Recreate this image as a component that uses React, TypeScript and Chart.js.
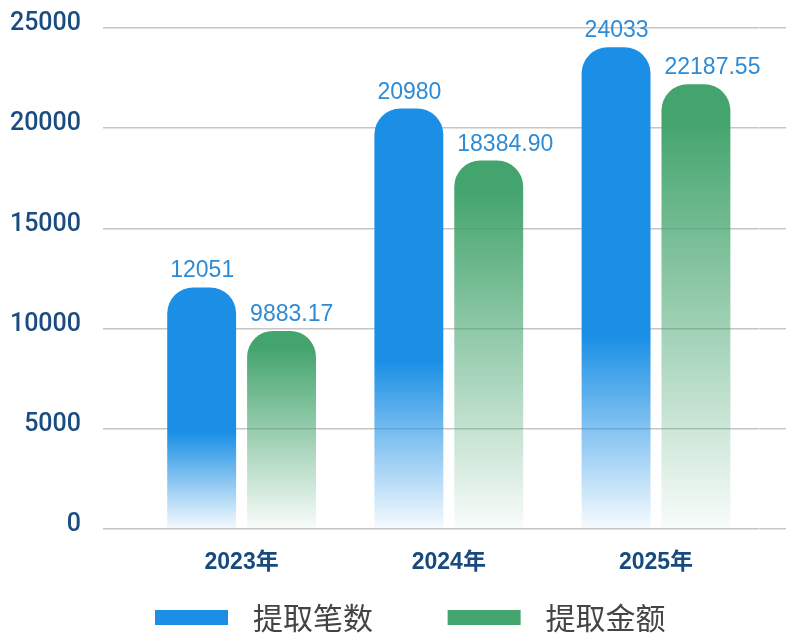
import React, { useEffect, useRef } from 'react';
import { Chart, registerables } from 'chart.js';

Chart.register(...registerables);

// ---- data ----
const categories = ['2023年', '2024年', '2025年'];
const countValues = [12051, 20980, 24033];
const amountValues = [9883.17, 18384.9, 22187.55];
const seriesNames = ['提取笔数', '提取金额'];
const yTicks = [0, 5000, 10000, 15000, 20000, 25000];

const BLUE_RGB = [26, 143, 229];
const GREEN_RGB = [67, 164, 109];
const rgba = (c: number[], a: number) => `rgba(${c[0]},${c[1]},${c[2]},${a})`;

const LATIN = '"Liberation Sans", Arial, "Noto Sans CJK SC", sans-serif';
const CJK = '"Noto Sans CJK SC", "Noto Sans", sans-serif';

function barGradient(rgb: number[], stops: [number, number][]) {
  return (ctx: any) => {
    const chart = ctx.chart;
    const y = chart.scales?.y;
    if (!chart.chartArea || !y || ctx.type !== 'data') return rgba(rgb, 1);
    const top = y.getPixelForValue(ctx.raw);
    const bottom = y.getPixelForValue(0);
    if (!isFinite(top) || !isFinite(bottom) || top === bottom) return rgba(rgb, 1);
    const g = chart.ctx.createLinearGradient(0, top, 0, bottom);
    stops.forEach(([p, a]) => g.addColorStop(p, rgba(rgb, a)));
    return g;
  };
}

// legend swatch: a 73x15 box placed inside a wider transparent slot
function swatch(color: string) {
  const c = document.createElement('canvas');
  c.width = 136;
  c.height = 15;
  const g = c.getContext('2d')!;
  g.fillStyle = color;
  g.fillRect(53, 0, 73, 15);
  return c;
}

const valueLabels = {
  id: 'valueLabels',
  afterDatasetsDraw(chart: any) {
    const ctx = chart.ctx;
    ctx.save();
    ctx.font = `23px ${LATIN}`;
    ctx.fillStyle = '#2d8bd6';
    ctx.textAlign = 'left';
    ctx.textBaseline = 'alphabetic';
    chart.data.datasets.forEach((ds: any, di: number) => {
      const meta = chart.getDatasetMeta(di);
      meta.data.forEach((el: any, i: number) => {
        const { x, y, width } = el.getProps(['x', 'y', 'width'], true);
        const v = ds.data[i];
        const txt = di === 0 ? String(v) : v.toFixed(2);
        ctx.fillText(txt, x - width / 2 + 3, y - 10);
      });
    });
    ctx.restore();
  },
};

export default function App() {
  const ref = useRef<HTMLCanvasElement>(null);

  useEffect(() => {
    if (!ref.current) return;
    const blue = rgba(BLUE_RGB, 1);
    const green = rgba(GREEN_RGB, 1);
    const swatches = [swatch(blue), swatch(green)];
    const colors = [blue, green];
    const gridColor = '#c6c6c6';
    const chart = new Chart(ref.current, {
      type: 'bar',
      data: {
        labels: categories,
        datasets: [
          {
            label: seriesNames[0],
            data: countValues,
            backgroundColor: barGradient(BLUE_RGB, [[0, 1], [0.6, 1], [1, 0.04]]),
            borderRadius: { topLeft: 26, topRight: 26, bottomLeft: 0, bottomRight: 0 },
            borderSkipped: 'bottom',
            categoryPercentage: 0.771,
            barPercentage: 0.8625,
          },
          {
            label: seriesNames[1],
            data: amountValues,
            backgroundColor: barGradient(GREEN_RGB, [[0, 1], [0.08, 1], [1, 0.03]]),
            borderRadius: { topLeft: 26, topRight: 26, bottomLeft: 0, bottomRight: 0 },
            borderSkipped: 'bottom',
            categoryPercentage: 0.771,
            barPercentage: 0.8625,
          },
        ],
      },
      options: {
        responsive: false,
        animation: false,
        layout: { padding: { top: 28, left: 8, right: 26.4, bottom: -9.5 } },
        scales: {
          x: {
            afterFit: (s: any) => {
              s.height = 52;
            },
            grid: { display: false, drawTicks: false },
            border: { display: false },
            ticks: {
              padding: 20,
              color: '#174a7e',
              font: { family: LATIN, size: 23, weight: 'bold' },
            },
          },
          y: {
            min: yTicks[0],
            max: yTicks[yTicks.length - 1],
            afterFit: (s: any) => {
              s.width = 130;
              s.paddingTop = 15;
              s.paddingBottom = 15;
            },
            grid: { color: gridColor, lineWidth: 1.5, drawTicks: true, tickLength: 35, tickColor: gridColor },
            border: { display: false },
            ticks: {
              stepSize: yTicks[1] - yTicks[0],
              padding: 22,
              labelOffset: -4,
              color: '#1a4c82',
              font: { family: 'Roboto, "Liberation Sans", Arial, sans-serif', size: 25, weight: 500 },
              callback: (v: any) => String(v),
            },
          },
          y2: {
            position: 'right',
            min: yTicks[0],
            max: yTicks[yTicks.length - 1],
            afterFit: (s: any) => {
              s.width = 0;
            },
            grid: { drawOnChartArea: false, drawTicks: true, tickLength: 26.4, color: gridColor, lineWidth: 1.5, tickColor: gridColor },
            border: { display: false },
            ticks: { display: false, stepSize: yTicks[1] - yTicks[0] },
          },
        },
        plugins: {
          tooltip: { enabled: false },
          legend: {
            position: 'bottom',
            align: 'center',
            labels: {
              usePointStyle: true,
              pointStyleWidth: 136,
              boxHeight: 15,
              padding: 21.6,
              color: '#444',
              font: { family: CJK, size: 30 },
              generateLabels: (c: any) =>
                c.data.datasets.map((ds: any, i: number) => ({
                  text: ds.label,
                  fillStyle: colors[i],
                  strokeStyle: colors[i],
                  lineWidth: 0,
                  hidden: false,
                  datasetIndex: i,
                  pointStyle: swatches[i],
                  fontColor: '#444',
                })),
            },
          },
        },
      } as any,
      plugins: [valueLabels],
    });
    return () => chart.destroy();
  }, []);

  return (
    <div style={{ position: 'fixed', left: 0, top: 0, width: 786, height: 633, background: '#fff' }}>
      <canvas ref={ref} width={786} height={633} style={{ width: 786, height: 633, display: 'block' }} />
    </div>
  );
}
